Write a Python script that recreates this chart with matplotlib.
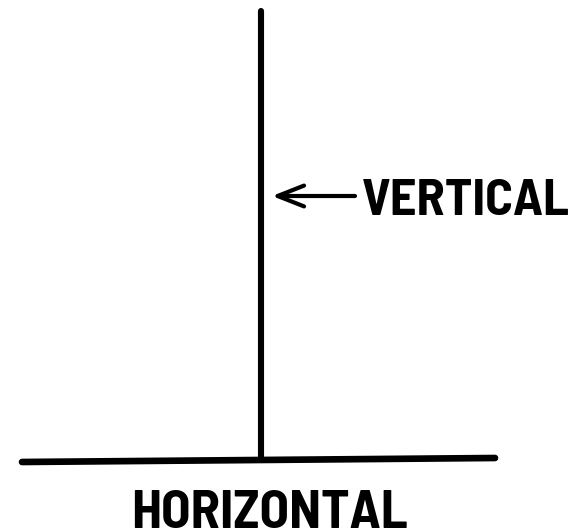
import matplotlib
matplotlib.use("Agg")
import matplotlib.pyplot as plt

labels = ["VERTICAL", "HORIZONTAL"]
family = ["Barlow Semi Condensed", "DejaVu Sans"]

fig = plt.figure(figsize=(5.72, 5.31), dpi=100)
ax = fig.add_axes([0, 0, 1, 1])
ax.set_xlim(0, 572)
ax.set_ylim(531, 0)
ax.axis("off")

# vertical line
ax.plot([261, 261], [11, 459], color="black", lw=4.4, solid_capstyle="round")
# horizontal line
ax.plot([22, 495], [462, 458], color="black", lw=4.8, solid_capstyle="round")
# arrow
ax.annotate("", xy=(272, 196), xytext=(355, 196),
            arrowprops=dict(arrowstyle="->,head_length=1.9,head_width=0.75",
                            lw=3.0, color="black", shrinkA=0, shrinkB=0))
ax.text(362, 215, labels[0], fontsize=37.5, fontweight="bold", family=family,
        ha="left", va="baseline")
ax.text(270, 528, labels[1], fontsize=39, fontweight="bold", family=family,
        ha="center", va="baseline")

fig.savefig("out.png", dpi=100)
